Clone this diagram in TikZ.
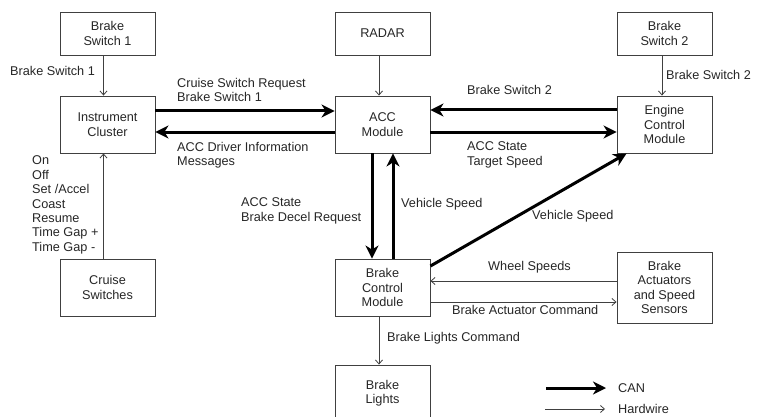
\documentclass[tikz,border=0pt]{standalone}
\usepackage{fontspec}
\setmainfont{Liberation Sans}
\usetikzlibrary{arrows.meta}
\begin{document}
\begin{tikzpicture}[x=1pt,y=-1pt,
  every node/.style={font=\fontsize{12.7}{14.4}\selectfont, text=black!85},
  box/.style={draw=black!75, line width=0.9pt, minimum width=95pt, inner sep=0pt, align=center},
  lbl/.style={anchor=west, inner sep=0pt, align=left},
  can/.style={line width=3pt, draw=black, -{Stealth[length=13pt,width=13pt,inset=4pt]}},
  wire/.style={line width=0.8pt, draw=black!75, -{Straight Barb[length=4pt,width=7pt]}}]
\useasboundingbox (0,0) rectangle (762,417);
% boxes
\node[box, minimum height=43pt] (bs1) at (107.5,33.5) {Brake\\Switch 1};
\node[box, minimum height=43pt] (radar) at (382.5,33.5) {RADAR};
\node[box, minimum height=43pt] (bs2) at (664.5,33.5) {Brake\\Switch 2};
\node[box, minimum height=57pt] (ic) at (107.5,124.5) {Instrument\\Cluster};
\node[box, minimum height=57pt] (acc) at (382.5,124.5) {ACC\\Module};
\node[box, minimum height=57pt] (ecm) at (664.5,124.5) {Engine\\Control\\Module};
\node[box, minimum height=57pt] (cs) at (107.5,287.5) {Cruise\\Switches};
\node[box, minimum height=57pt] (bcm) at (382.5,287.5) {Brake\\Control\\Module};
\node[box, minimum height=71pt] (ba) at (664.5,287.5) {Brake\\Actuators\\and Speed\\Sensors};
\node[box, minimum height=57pt] (bl) at (382.5,393.5) {Brake\\Lights};
% hardwire connectors
\draw[wire] ([xshift=-4pt]bs1.south) -- ([xshift=-4pt]ic.north);
\draw[wire] ([xshift=-3.5pt]radar.south) -- ([xshift=-3.5pt]acc.north);
\draw[wire] ([xshift=-2.5pt]bs2.south) -- ([xshift=-2.5pt]ecm.north);
\draw[wire] ([xshift=-4pt]cs.north) -- ([xshift=-4pt]ic.south);
\draw[wire] ([yshift=6.5pt]ba.west) -- ([yshift=6.5pt]bcm.east);
\draw[wire] ([yshift=-14.5pt]bcm.east) -- ([yshift=-14.5pt]ba.west);
\draw[wire] ([xshift=-3.5pt]bcm.south) -- ([xshift=-3.5pt]bl.north);
% CAN connectors
\draw[can] ([yshift=13.5pt]ic.east) -- ([yshift=13.5pt]acc.west);
\draw[can] ([yshift=-7.5pt]acc.west) -- ([yshift=-7.5pt]ic.east);
\draw[can] ([yshift=14.5pt]ecm.west) -- ([yshift=14.5pt]acc.east);
\draw[can] ([yshift=-7.5pt]acc.east) -- ([yshift=-7.5pt]ecm.west);
\draw[can] ([xshift=-10.5pt]acc.south) -- ([xshift=-10.5pt]bcm.north);
\draw[can] ([xshift=10.5pt]bcm.north) -- ([xshift=10.5pt]acc.south);
\draw[can] ([yshift=21.5pt]bcm.east) -- ([xshift=10pt]ecm.south west);
% labels
\node[lbl] (l1) at (10,71) {Brake Switch 1};
\node[lbl] (l2) at (177,90) {Cruise Switch Request\\Brake Switch 1};
\node[lbl] (l3) at (177,155) {ACC Driver Information\\Messages};
\node[lbl] (l4) at (467,90) {Brake Switch 2};
\node[lbl] (l5) at (467,155) {ACC State\\Target Speed};
\node[lbl] (l6) at (666,75) {Brake Switch 2};
\node[lbl] (l7) at (241,211) {ACC State\\Brake Decel Request};
\node[lbl] (l8) at (401,204) {Vehicle Speed};
\node[lbl] (l9) at (532,216) {Vehicle Speed};
\node[lbl] (l10) at (488,267) {Wheel Speeds};
\node[lbl] (l11) at (452,310) {Brake Actuator Command};
\node[lbl] (l12) at (387,338) {Brake Lights Command};
\node[lbl] (l13) at (32,205) {On\\Off\\Set /Accel\\Coast\\Resume\\Time Gap +\\Time Gap -};
% legend
\coordinate (c1) at (546,388);
\coordinate (c2) at (606,388);
\coordinate (h1) at (545,409);
\coordinate (h2) at (605,409);
\draw[can] (c1) -- (c2);
\draw[wire] (h1) -- (h2);
\node[lbl] (lcan) at (618,388) {CAN};
\node[lbl] (lhw) at (618,409) {Hardwire};
\end{tikzpicture}
\end{document}
